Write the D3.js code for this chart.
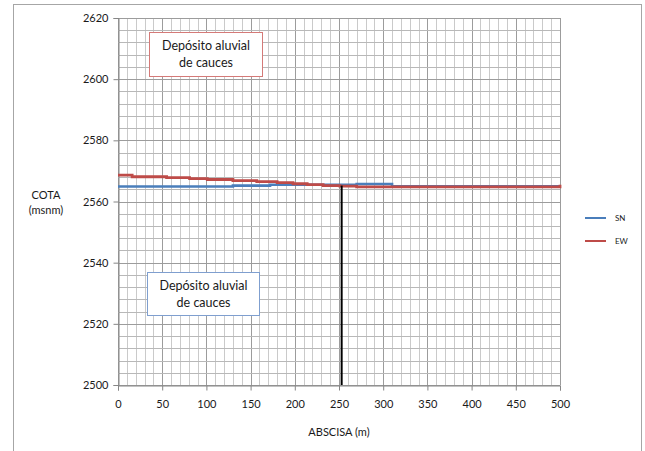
<!DOCTYPE html>
<html><head><meta charset="utf-8">
<script src="https://cdn.jsdelivr.net/npm/d3@7/dist/d3.min.js"></script>
<style>body{margin:0;background:#fff}svg{display:block}text{font-family:Lato,"Open Sans",sans-serif}</style>
</head><body>
<script>
// Data
const snX = [0, 130, 172, 270, 310, 500];
const snY = [2564.9, 2565.2, 2565.5, 2565.7, 2565.0, 2565.0];
const ewX = [0, 16, 55, 81, 101, 130, 157, 180, 198, 214, 232, 251, 270, 497, 500];
const ewY = [2568.6, 2568.1, 2567.8, 2567.5, 2567.2, 2566.8, 2566.5, 2566.2, 2565.8, 2565.5, 2565.2, 2565.0, 2564.8, 2564.8, 2565.5];
const cutX = [253, 253];
const cutY = [2565.2, 2500];
const xTicks = [0, 50, 100, 150, 200, 250, 300, 350, 400, 450, 500];
const yTicks = [2500, 2520, 2540, 2560, 2580, 2600, 2620];
const seriesNames = ["SN", "EW"];
const boxTexts = [["Depósito aluvial", "de cauces"], ["Depósito aluvial", "de cauces"]];
const boxAnchors = [[35, 2615.3], [33, 2537]]; // data coords of box top-left
const xTitle = "ABSCISA (m)";
const yTitle = ["COTA", "(msnm)"];

const W = 645, H = 451;
const L = 118, R = 560, T = 18, B = 385;
const svg = d3.select("body").append("svg").attr("width", W).attr("height", H);
const x = d3.scaleLinear().domain([0, 500]).range([L, R]);
const y = d3.scaleLinear().domain([2500, 2620]).range([B, T]);

// outer border
svg.append("rect").attr("x", 13.5).attr("y", 4.5).attr("width", 628).attr("height", 460)
  .attr("fill", "none").attr("stroke", "#a6a6a6");

// grid
const g = svg.append("g");
d3.range(0, 501, 10).forEach(v => {
  g.append("line").attr("x1", Math.round(x(v)) + 0.5).attr("x2", Math.round(x(v)) + 0.5)
    .attr("y1", T).attr("y2", B)
    .attr("stroke", v % 50 === 0 ? "#9c9c9c" : "#cacaca").attr("stroke-width", 1);
});
d3.range(2500, 2621, 4).forEach(v => {
  g.append("line").attr("y1", Math.round(y(v)) + 0.5).attr("y2", Math.round(y(v)) + 0.5)
    .attr("x1", L).attr("x2", R)
    .attr("stroke", v % 20 === 0 ? "#9c9c9c" : "#b8b8b8").attr("stroke-width", 1);
});

// axes
const xAxis = d3.axisBottom(x).tickValues(xTicks).tickSize(5).tickPadding(10).tickFormat(d3.format("d"));
const yAxis = d3.axisLeft(y).tickValues(yTicks).tickSize(5).tickPadding(5).tickFormat(d3.format("d"));
const gx = svg.append("g").attr("transform", `translate(0,${Math.round(B) + 0.5})`).call(xAxis);
const gy = svg.append("g").attr("transform", `translate(${L + 0.5},0)`).call(yAxis);
[gx, gy].forEach(a => {
  a.select(".domain").attr("stroke", "#868686");
  a.selectAll(".tick line").attr("stroke", "#868686");
  a.selectAll(".tick text").attr("fill", "#1a1a1a").style("font-size", "11px").style("font-family", "Lato");
});

// lines
const lineGen = d3.line().x(d => x(d[0])).y(d => y(d[1])).curve(d3.curveStepAfter);
const colors = ["#4a7ebb", "#be4b48"];
svg.append("path").datum(snX.map((v, i) => [v, snY[i]])).attr("d", lineGen)
  .attr("fill", "none").attr("stroke", colors[0]).attr("stroke-width", 2.6);
svg.append("path").datum(ewX.map((v, i) => [v, ewY[i]])).attr("d", lineGen)
  .attr("fill", "none").attr("stroke", colors[1]).attr("stroke-width", 2.8);
svg.append("path").datum(cutX.map((v, i) => [v, cutY[i]]))
  .attr("d", d3.line().x(d => x(d[0])).y(d => y(d[1])))
  .attr("fill", "none").attr("stroke", "#000").attr("stroke-width", 2);

// text boxes
const boxStroke = ["#d47a78", "#7f9fcf"];
const boxW = [113, 112], boxH = [44, 43];
boxTexts.forEach((lines, i) => {
  const bx = Math.round(x(boxAnchors[i][0])) + 0.5, by = Math.round(y(boxAnchors[i][1])) + 0.5;
  svg.append("rect").attr("x", bx).attr("y", by).attr("width", boxW[i]).attr("height", boxH[i])
    .attr("fill", "#fff").attr("stroke", boxStroke[i]).attr("stroke-width", 1);
  lines.forEach((t, j) => {
    svg.append("text").attr("x", bx + boxW[i] / 2).attr("y", by + 17 + j * 17)
      .attr("text-anchor", "middle").style("font-size", "12.5px").attr("fill", "#1a1a1a").text(t);
  });
});

// legend
seriesNames.forEach((n, i) => {
  const ly = 218 + i * 23;
  svg.append("line").attr("x1", 585).attr("x2", 606).attr("y1", ly).attr("y2", ly)
    .attr("stroke", colors[i]).attr("stroke-width", 2);
  svg.append("text").attr("x", 615).attr("y", ly + 3).style("font-size", "8px").attr("fill", "#1a1a1a").text(n);
});

// titles
svg.append("text").attr("x", (L + R) / 2).attr("y", 436).attr("text-anchor", "middle")
  .style("font-size", "11px").attr("fill", "#1a1a1a").text(xTitle);
yTitle.forEach((t, j) => {
  svg.append("text").attr("x", 46).attr("y", 199 + j * 15).attr("text-anchor", "middle")
    .style("font-size", "11px").attr("fill", "#1a1a1a").text(t);
});
</script>
</body></html>
